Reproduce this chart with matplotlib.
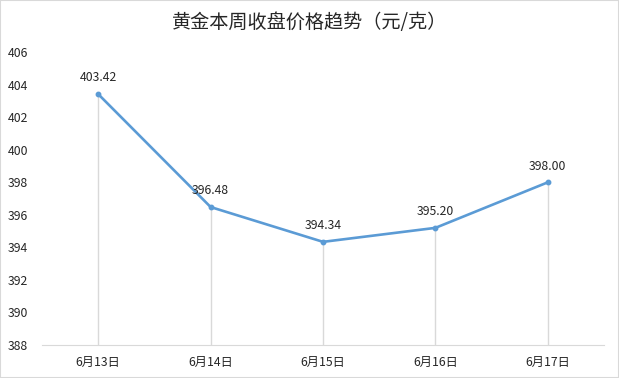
import matplotlib.pyplot as plt
from matplotlib.patches import Rectangle

plt.rcParams['font.family'] = ['Noto Sans CJK SC', 'DejaVu Sans']

dates = ['6月13日', '6月14日', '6月15日', '6月16日', '6月17日']
prices = [403.42, 396.48, 394.34, 395.20, 398.00]
labels = ['403.42', '396.48', '394.34', '395.20', '398.00']
y_ticks = [388, 390, 392, 394, 396, 398, 400, 402, 404, 406]

fig = plt.figure(figsize=(6.19, 3.78), dpi=100)
ax = fig.add_axes([0.0679, 0.0873, 0.9079, 0.7747])

x = list(range(len(dates)))
ax.vlines(x, 388, prices, color='#d9d9d9', lw=1, zorder=1)
ax.plot(x, prices, color='#5b9bd5', lw=1.9, marker='o', ms=3.2, zorder=3)
for xi, p, lab in zip(x, prices, labels):
    ax.annotate(lab, (xi, p), xytext=(0, 7), textcoords='offset points',
                ha='center', va='bottom', fontsize=8.8, color='#262626')

ax.set_xlim(-0.5, len(dates) - 0.5)
ax.set_ylim(388, 406)
ax.set_yticks(y_ticks)
ax.set_xticks(x)
ax.set_xticklabels(dates)
ax.tick_params(axis='both', length=0, labelsize=8.8, colors='#262626')
ax.tick_params(axis='y', pad=10)
ax.tick_params(axis='x', pad=8)
for s in ['top', 'right', 'left']:
    ax.spines[s].set_visible(False)
ax.spines['bottom'].set_color('#d9d9d9')

fig.text(0.5, 0.941, '黄金本周收盘价格趋势（元/克）', ha='center', va='center',
         fontsize=13.8, color='#262626')
fig.patches.append(Rectangle((0, 0), 1, 1, transform=fig.transFigure,
                             fill=False, edgecolor='#d9d9d9', lw=1.5))

fig.savefig('out.png', dpi=100)
